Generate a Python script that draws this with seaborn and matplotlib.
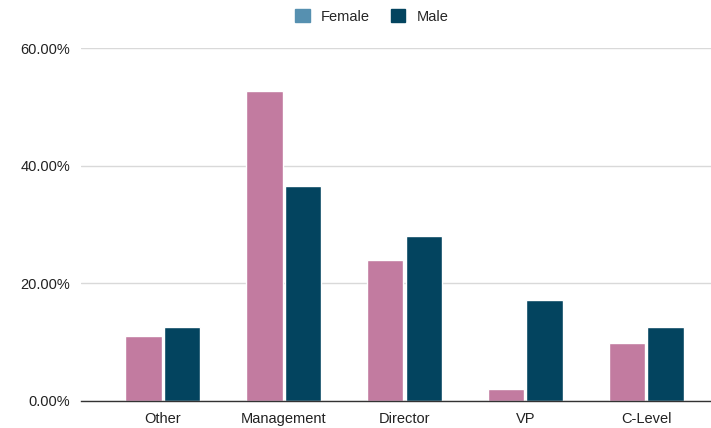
import matplotlib
matplotlib.use("Agg")
import matplotlib.pyplot as plt
import matplotlib.patches as mpatches
from matplotlib.ticker import FuncFormatter
import pandas as pd
import seaborn as sns

levels = ["Other", "Management", "Director", "VP", "C-Level"]
female = [0.110, 0.527, 0.240, 0.020, 0.099]
male = [0.125, 0.365, 0.280, 0.172, 0.125]

df = pd.DataFrame({
    "level": levels * 2,
    "share": female + male,
    "gender": ["Female"] * len(levels) + ["Male"] * len(levels),
})

sns.set_style("white")
plt.rcParams['font.family'] = ['Liberation Sans', 'DejaVu Sans']

fig = plt.figure(figsize=(7.11, 4.28), dpi=100)
ax = fig.add_axes([81 / 711, 27 / 428, 630 / 711, 353 / 428])

sns.barplot(data=df, x="level", y="share", hue="gender",
            palette={"Female": "#c27ba0", "Male": "#03445f"},
            width=0.64, gap=0.06, saturation=1, ax=ax, legend=False)

ax.set_ylim(0, 0.6)
ax.set_xlim(-0.678, 4.537)
ax.set_yticks([0, 0.2, 0.4, 0.6])
ax.yaxis.set_major_formatter(FuncFormatter(lambda v, p: f"{v * 100:.2f}%"))
ax.grid(axis="y", color="#d9d9d9", lw=1)
ax.set_axisbelow(True)
for s in ["top", "right", "left"]:
    ax.spines[s].set_visible(False)
ax.spines["bottom"].set_color("#333333")
ax.spines["bottom"].set_linewidth(1)
ax.tick_params(axis="both", length=0, labelsize=10.5, colors="#222222")
ax.tick_params(axis="y", pad=8)
ax.tick_params(axis="x", pad=8)
ax.set_xlabel("")
ax.set_ylabel("")

# legend as drawn in the source (female swatch is blue-ish)
handles = [mpatches.Patch(color="#5690b0", label="Female"),
           mpatches.Patch(color="#03445f", label="Male")]
fig.legend(handles=handles, loc="center", bbox_to_anchor=(0.523, 0.962),
           ncol=2, frameon=False, fontsize=10.5, handlelength=1.0,
           handleheight=1.0, columnspacing=1.4, handletextpad=0.8)

plt.savefig("out.png", dpi=100)
